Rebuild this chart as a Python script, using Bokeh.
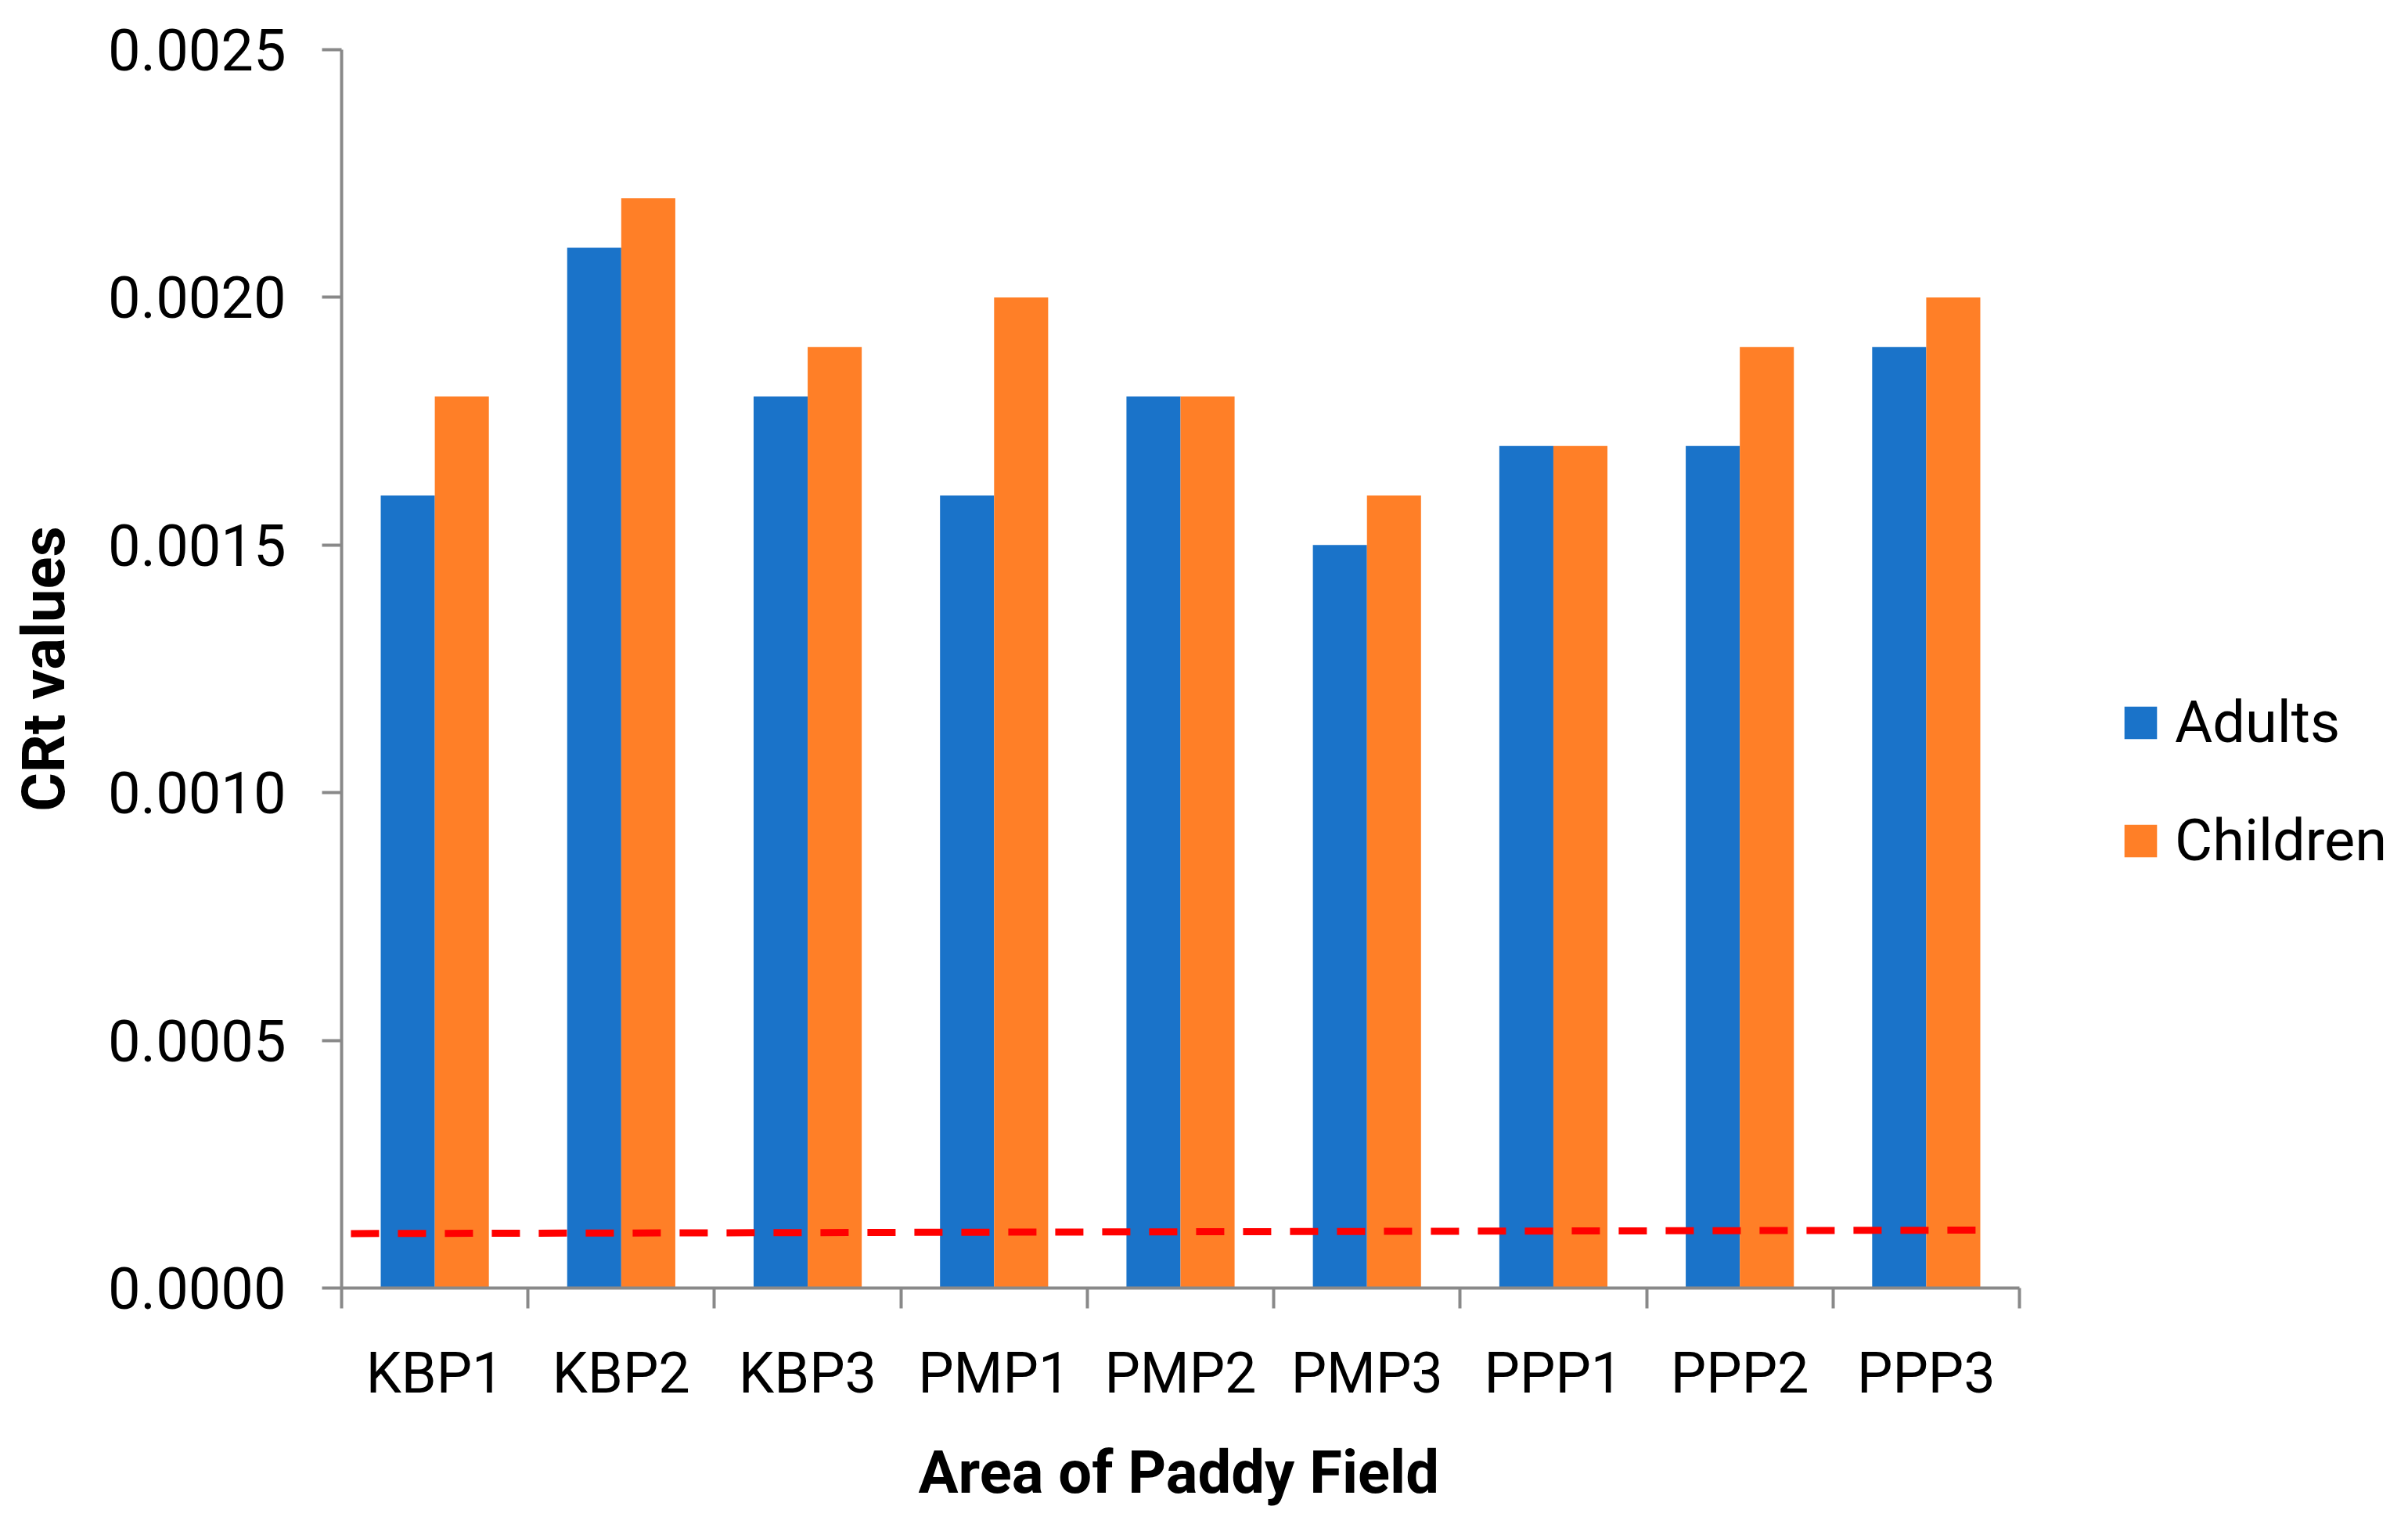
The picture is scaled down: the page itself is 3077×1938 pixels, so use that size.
from bokeh.plotting import figure
from bokeh.models import (ColumnDataSource, Range1d, FixedTicker, NumeralTickFormatter,
                          Legend, LegendItem, Title)
from bokeh.embed import file_html
from bokeh.resources import INLINE

# ---- data ----
categories = ["KBP1", "KBP2", "KBP3", "PMP1", "PMP2", "PMP3", "PPP1", "PPP2", "PPP3"]
adults = [0.0016, 0.0021, 0.0018, 0.0016, 0.0018, 0.0015, 0.0017, 0.0017, 0.0019]
children = [0.0018, 0.0022, 0.0019, 0.0020, 0.0018, 0.0016, 0.0017, 0.0019, 0.0020]
limit_line_x = [0.05, 8.86]          # position along the category axis (category units)
limit_line_y = [0.000110, 0.000117]
y_ticks = [0.0, 0.0005, 0.0010, 0.0015, 0.0020, 0.0025]
series_names = ["Adults", "Children"]
x_title = "Area of Paddy Field"
y_title = "CRt values"

FONT = "Roboto"
BLUE = "#1A73C9"
ORANGE = "#FF7F27"
AXIS = "#898989"
BAR_W = 0.29

W, H = 3077, 1938
LEFT, TOP, AXIS_RIGHT, BOTTOM = 436, 63, 2580, 1645
n = len(categories)
x_end = n * (W - LEFT) / (AXIS_RIGHT - LEFT)   # frame extends under the legend area

idx = list(range(n))
src = ColumnDataSource(dict(
    x_a=[i + 0.5 - BAR_W / 2 for i in idx],
    x_c=[i + 0.5 + BAR_W / 2 for i in idx],
    adults=adults,
    children=children,
))

p = figure(frame_width=W - LEFT, frame_height=BOTTOM - TOP,
           output_backend="svg", toolbar_location=None,
           x_range=Range1d(0, x_end), y_range=Range1d(0, 0.0025),
           min_border_left=LEFT, min_border_right=0, min_border_top=TOP,
           min_border_bottom=H - BOTTOM)
p.outline_line_color = None
p.xgrid.visible = False
p.ygrid.visible = False
p.background_fill_color = "white"
p.border_fill_color = "white"

r1 = p.vbar(x="x_a", top="adults", width=BAR_W, bottom=0, source=src,
            fill_color=BLUE, line_color=None)
r2 = p.vbar(x="x_c", top="children", width=BAR_W, bottom=0, source=src,
            fill_color=ORANGE, line_color=None)
p.line(limit_line_x, limit_line_y, line_color="#FF0000", line_width=9, line_dash="36 24")

# x axis: labels at category centres, tick marks at boundaries
xa = p.xaxis[0]
xa.bounds = (0, n)
xa.ticker = FixedTicker(ticks=[i + 0.5 for i in idx], minor_ticks=list(range(n + 1)))
xa.major_label_overrides = {i + 0.5: c for i, c in zip(idx, categories)}
xa.major_tick_out = 0
xa.major_tick_in = 0
xa.minor_tick_out = 26
xa.minor_tick_in = 0
xa.minor_tick_line_color = AXIS
xa.minor_tick_line_width = 4
xa.axis_line_color = AXIS
xa.axis_line_width = 4
xa.major_label_text_font = FONT
xa.major_label_text_font_size = "72px"
xa.major_label_text_color = "black"
xa.major_label_standoff = 40

# x-axis title, centred under the category axis (not under the wider frame)
p.add_layout(Title(text=x_title, align="left", offset=737, vertical_align="top",
                   standoff=72, text_font=FONT, text_font_style="bold",
                   text_font_size="76px", text_color="black"), "below")

ya = p.yaxis[0]
ya.ticker = FixedTicker(ticks=y_ticks)
ya.formatter = NumeralTickFormatter(format="0.0000")
ya.major_tick_out = 25
ya.major_tick_in = 0
ya.minor_tick_out = 0
ya.minor_tick_in = 0
ya.major_tick_line_color = AXIS
ya.major_tick_line_width = 4
ya.axis_line_color = AXIS
ya.axis_line_width = 4
ya.major_label_text_font = FONT
ya.major_label_text_font_size = "74px"
ya.major_label_text_color = "black"
ya.major_label_standoff = 46
ya.axis_label = y_title
ya.axis_label_text_font = FONT
ya.axis_label_text_font_style = "bold"
ya.axis_label_text_font_size = "76px"
ya.axis_label_text_color = "black"
ya.axis_label_standoff = 34

legend = Legend(items=[LegendItem(label=series_names[0], renderers=[r1]),
                       LegendItem(label=series_names[1], renderers=[r2])],
                location=(2273, 528), orientation="vertical",
                glyph_width=52, glyph_height=52, label_height=48, spacing=64,
                padding=0, margin=0, border_line_color=None, background_fill_alpha=0,
                label_text_font=FONT, label_text_font_size="74px",
                label_text_color="black", label_standoff=18)
p.add_layout(legend, "center")

open("out.html", "w").write(file_html(p, INLINE))
